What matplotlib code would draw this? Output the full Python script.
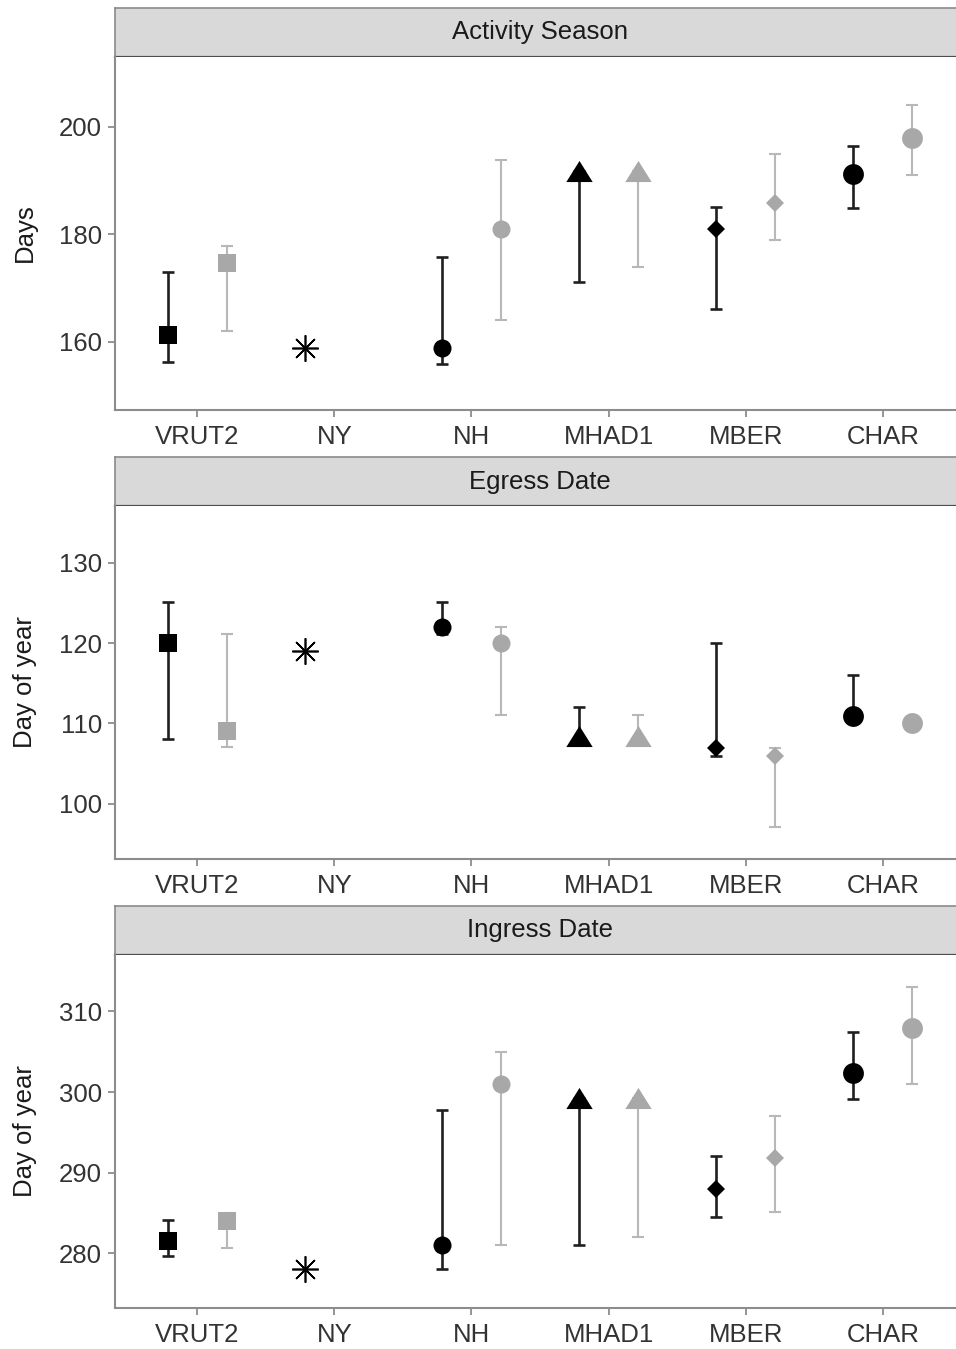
"""Three stacked panels: activity season, egress and ingress dates by site."""
import numpy as np
import matplotlib
matplotlib.use("Agg")
import matplotlib.pyplot as plt

plt.rcParams["font.family"] = ["Liberation Sans", "DejaVu Sans"]

nan = np.nan

SITES = ["VRUT2", "NY", "NH", "MHAD1", "MBER", "CHAR"]

# Activity season (days)
ACT_B    = [161.3, 158.9, 158.9, 191.7, 181.0, 191.3]
ACT_B_LO = [156.3, nan,   155.9, 171.2, 166.1, 184.9]
ACT_B_HI = [173.0, nan,   175.8, 191.7, 185.1, 196.5]
ACT_G    = [174.7, nan,   181.0, 191.7, 185.9, 198.0]
ACT_G_LO = [162.0, nan,   164.1, 174.0, 179.0, 191.1]
ACT_G_HI = [177.9, nan,   193.9, 191.7, 195.0, 204.1]

# Egress date (day of year)
EGR_B    = [120.0, 119.0, 122.0, 108.4, 106.9, 110.9]
EGR_B_LO = [108.0, nan,   121.2, 107.5, 106.0, 110.5]
EGR_B_HI = [125.1, nan,   125.1, 112.0, 120.0, 116.0]
EGR_G    = [109.1, nan,   120.0, 108.4, 106.0, 110.0]
EGR_G_LO = [107.1, nan,   111.0, 108.0, 97.1,  109.6]
EGR_G_HI = [121.1, nan,   122.0, 111.1, 106.9, 110.4]

# Ingress date (day of year)
ING_B    = [281.5, 278.0, 281.0, 299.3, 288.0, 302.4]
ING_B_LO = [279.6, nan,   278.1, 281.0, 284.5, 299.1]
ING_B_HI = [284.1, nan,   297.8, 299.3, 292.0, 307.5]
ING_G    = [284.0, nan,   301.0, 299.3, 291.8, 308.0]
ING_G_LO = [280.7, nan,   281.0, 282.0, 285.1, 301.0]
ING_G_HI = [285.0, nan,   305.0, 299.3, 297.0, 313.0]

PANELS = [
    ("Activity Season", "Days", [160, 180, 200], (147.3, 213.0),
     (ACT_B, ACT_B_LO, ACT_B_HI), (ACT_G, ACT_G_LO, ACT_G_HI)),
    ("Egress Date", "Day of year", [100, 110, 120, 130], (93.1, 137.1),
     (EGR_B, EGR_B_LO, EGR_B_HI), (EGR_G, EGR_G_LO, EGR_G_HI)),
    ("Ingress Date", "Day of year", [280, 290, 300, 310], (273.2, 317.0),
     (ING_B, ING_B_LO, ING_B_HI), (ING_G, ING_G_LO, ING_G_HI)),
]

# marker style per site
TRI = [(-1, -0.8), (1, -0.8), (0, 0.8)]
MARKERS = ["s", (8, 2, 0), "o", TRI, "D", "o"]
MSIZES  = [13, 19, 13, 19, 9, 15]

BLACK, BLACK_BAR = "#000000", "#1f1f1f"
GREY, GREY_BAR = "#a8a8a8", "#b8b8b8"
DODGE = 0.215
FS = 18.5

W, H = 956, 1349
fig = plt.figure(figsize=(W / 100, H / 100), dpi=100)


def rect(x0, y0, x1, y1):
    return [x0 / W, 1 - y1 / H, (x1 - x0) / W, (y1 - y0) / H]


TOPS = [8, 457, 906]
for (title, ylab, yt, ylim, blk, gry), top in zip(PANELS, TOPS):
    strip = fig.add_axes(rect(115, top, 965, top + 49))
    strip.set_facecolor("#d9d9d9")
    strip.set_xticks([])
    strip.set_yticks([])
    for s in strip.spines.values():
        s.set_color("#8a8a8a")
        s.set_linewidth(1.2)
    strip.spines["bottom"].set_color("#4d4d4d")
    strip.spines["bottom"].set_linewidth(1.6)
    strip.text(0.5, 0.5, title, ha="center", va="center", fontsize=FS,
               color="#1a1a1a", transform=strip.transAxes)

    ax = fig.add_axes(rect(115, top + 49, 965, top + 402))
    x = np.arange(len(SITES))
    for (vals, lo, hi), off, pc, bc, lw in [(blk, -DODGE, BLACK, BLACK_BAR, 1.9),
                                            (gry, DODGE, GREY, GREY_BAR, 1.5)]:
        for i in range(len(SITES)):
            if np.isnan(vals[i]):
                continue
            if not np.isnan(lo[i]):
                ax.errorbar(x[i] + off, vals[i],
                            yerr=[[vals[i] - lo[i]], [hi[i] - vals[i]]],
                            fmt="none", ecolor=bc, elinewidth=lw,
                            capsize=4.3, capthick=lw, zorder=2)
            m = MARKERS[i]
            if m == (8, 2, 0):
                ax.plot(x[i] + off, vals[i], marker=m, ms=MSIZES[i],
                        color=pc, mew=1.2, ls="none", zorder=3)
            else:
                ax.plot(x[i] + off, vals[i], marker=m, ms=MSIZES[i],
                        color=pc, mec=pc, mew=0, ls="none", zorder=3)

    ax.set_xlim(-0.6, 5.6)
    ax.set_ylim(*ylim)
    ax.set_xticks(x)
    ax.set_xticklabels(SITES)
    ax.set_yticks(yt)
    ax.spines[["top", "right"]].set_visible(False)
    for side in ["left", "bottom"]:
        ax.spines[side].set_color("#8c8c8c")
        ax.spines[side].set_linewidth(1.5)
    ax.tick_params(length=5, width=1.3, color="#8c8c8c", labelsize=FS,
                   labelcolor="#333333")
    ax.tick_params(axis="x", pad=6)
    ax.tick_params(axis="y", pad=4.5)
    fig.text(25 / W, 1 - (top + 49 + 176) / H, ylab, rotation=90,
             ha="center", va="center", fontsize=FS, color="#1a1a1a")

fig.savefig("out.png", dpi=100)
